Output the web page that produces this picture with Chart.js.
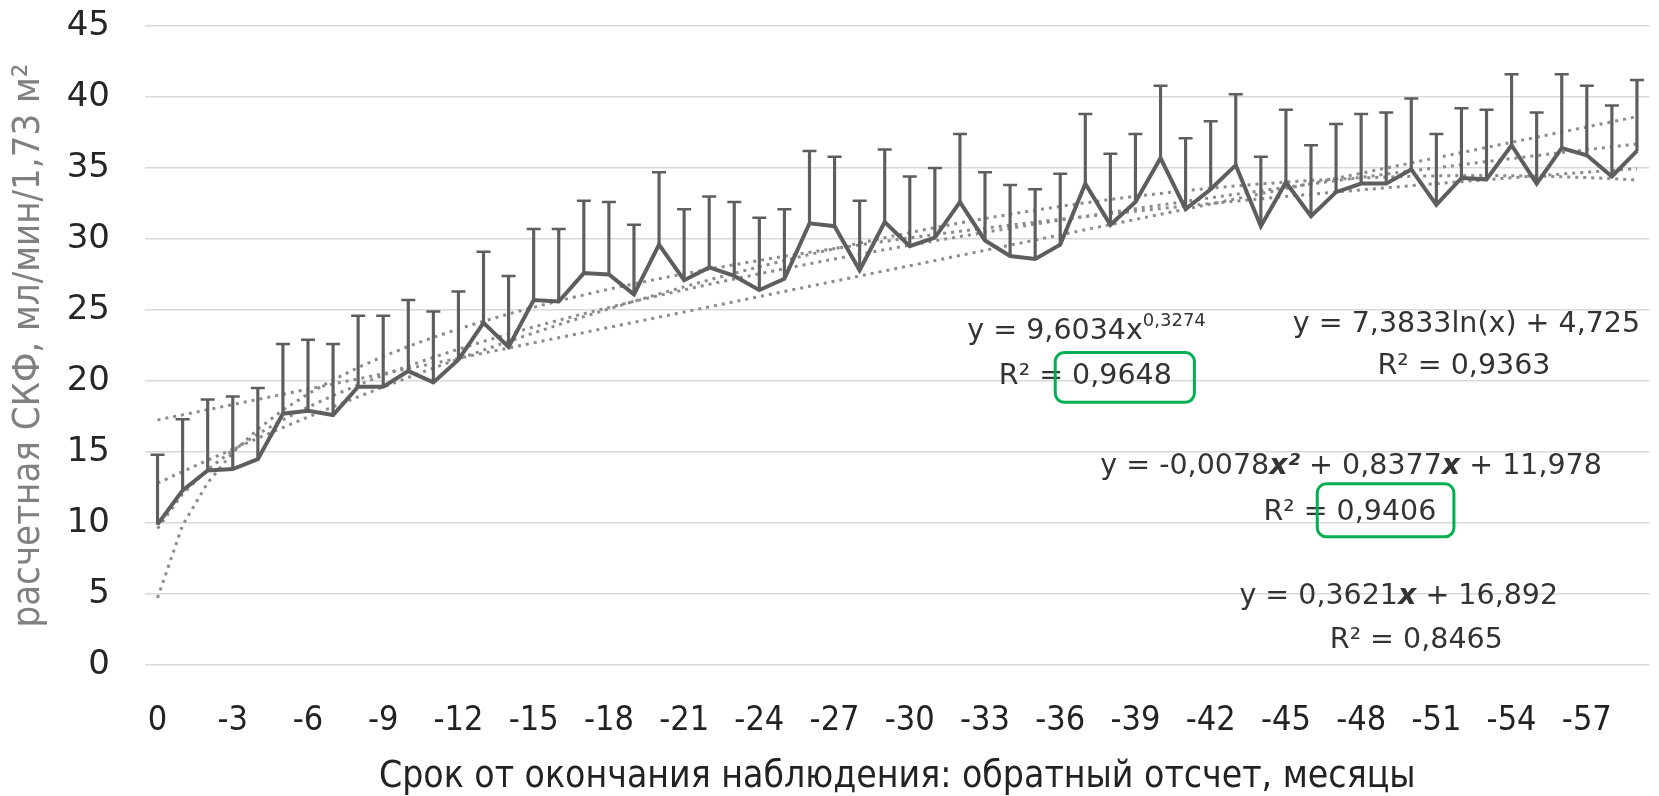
<!DOCTYPE html>
<html>
<head>
<meta charset="utf-8">
<script src="https://cdn.jsdelivr.net/npm/chart.js@4.4.1/dist/chart.umd.min.js"></script>
<style>
  html, body { margin: 0; padding: 0; background: #fff; }
  #chart { display: block; }
</style>
</head>
<body>
<canvas id="chart" width="1659" height="796"></canvas>
<script>
// months before end of observation
const months = [0, -1, -2, -3, -4, -5, -6, -7, -8, -9, -10, -11, -12, -13, -14, -15, -16, -17, -18, -19,
    -20, -21, -22, -23, -24, -25, -26, -27, -28, -29, -30, -31, -32, -33, -34, -35, -36, -37, -38, -39,
    -40, -41, -42, -43, -44, -45, -46, -47, -48, -49, -50, -51, -52, -53, -54, -55, -56, -57, -58, -59];

// mean eGFR
const gfrMean = [9.9, 12.3, 13.7, 13.8, 14.5, 17.7, 17.9, 17.6, 19.6, 19.6,
    20.7, 19.9, 21.5, 24.1, 22.4, 25.7, 25.6, 27.6, 27.5, 26.1,
    29.6, 27.1, 28.0, 27.4, 26.4, 27.2, 31.1, 30.9, 27.8, 31.2,
    29.5, 30.1, 32.6, 29.9, 28.8, 28.6, 29.6, 33.9, 31.0, 32.6,
    35.7, 32.1, 33.5, 35.2, 30.9, 34.0, 31.6, 33.3, 33.9, 33.9,
    34.9, 32.4, 34.3, 34.2, 36.6, 33.9, 36.4, 35.9, 34.4, 36.2];

// top of the error bar (mean + SD)
const gfrUpper = [14.8, 17.3, 18.7, 18.9, 19.5, 22.6, 22.9, 22.6, 24.6, 24.6,
    25.7, 24.9, 26.3, 29.1, 27.4, 30.7, 30.7, 32.7, 32.6, 31.0,
    34.7, 32.1, 33.0, 32.6, 31.5, 32.1, 36.2, 35.8, 32.7, 36.3,
    34.4, 35.0, 37.4, 34.7, 33.8, 33.5, 34.6, 38.8, 36.0, 37.4,
    40.8, 37.1, 38.3, 40.2, 35.8, 39.1, 36.6, 38.1, 38.8, 38.9,
    39.9, 37.4, 39.2, 39.1, 41.6, 38.9, 41.6, 40.8, 39.4, 41.2];

// trendline coefficients printed on the chart (x = 1..60)
const linearCoef = [0.3621, 16.892];          // y = a*x + b
const logCoef = [7.3833, 4.725];              // y = a*ln(x) + b
const powerCoef = [9.6034, 0.3274];           // y = a*x^b
const polyCoef = [-0.0078, 0.8377, 11.978];   // y = a*x^2 + b*x + c

const yTicks = [0, 5, 10, 15, 20, 25, 30, 35, 40, 45];

const xs = months.map((m, i) => i + 1);
const trendLinear = xs.map(x => linearCoef[0] * x + linearCoef[1]);
const trendLog = xs.map(x => logCoef[0] * Math.log(x) + logCoef[1]);
const trendPower = xs.map(x => powerCoef[0] * Math.pow(x, powerCoef[1]));
const trendPoly = xs.map(x => polyCoef[0] * x * x + polyCoef[1] * x + polyCoef[2]);

const LINE_GREY = '#5e5e5e';
const TREND_GREY = '#8c8c8c';
const TEXT_FONT = '"DejaVu Sans", Verdana, sans-serif';
const NARROW_FONT = '"Liberation Sans Narrow", "DejaVu Sans Condensed", sans-serif';

// equation labels, placed in data coords (x = category index, y = value)
const labels = [
    { x: 37.05, y: 23.5, runs: [{ t: 'y = 9,6034x' }, { t: '0,3274', sup: true }] },
    { x: 37.0, y: 20.3, runs: [{ t: 'R² = 0,9648' }] },
    { x: 52.2, y: 24.0, runs: [{ t: 'y = 7,3833ln(x) + 4,725' }] },
    { x: 52.1, y: 21.0, runs: [{ t: 'R² = 0,9363' }] },
    { x: 47.6, y: 14.0, runs: [{ t: 'y = -0,0078' }, { t: 'x²', bi: true }, { t: ' + 0,8377' }, { t: 'x', bi: true }, { t: ' + 11,978' }] },
    { x: 47.55, y: 10.75, runs: [{ t: 'R² = 0,9406' }] },
    { x: 49.5, y: 4.85, runs: [{ t: 'y = 0,3621' }, { t: 'x', bi: true }, { t: ' + 16,892' }] },
    { x: 50.2, y: 1.7, runs: [{ t: 'R² = 0,8465' }] }
];

const boxes = [
    { x0: 35.8, x1: 41.35, y0: 22.0, y1: 18.5 },
    { x0: 46.25, x1: 51.7, y0: 12.76, y1: 9.03 }
];

function runFont(r, size) {
    if (r.sup) return `${Math.round(size * 0.62)}px ${TEXT_FONT}`;
    if (r.bi) return `italic bold ${size}px ${TEXT_FONT}`;
    return `${size}px ${TEXT_FONT}`;
}

const equationPlugin = {
    id: 'equations',
    afterDatasetsDraw(chart) {
        const ctx = chart.ctx;
        const xScale = chart.scales.x;
        const yScale = chart.scales.y;
        const size = 28.5;

        ctx.save();
        ctx.fillStyle = '#333333';
        ctx.textBaseline = 'middle';
        ctx.textAlign = 'left';
        labels.forEach(lbl => {
            let total = 0;
            lbl.runs.forEach(r => {
                ctx.font = runFont(r, size);
                r.w = ctx.measureText(r.t).width;
                total += r.w;
            });
            let px = xScale.getPixelForValue(lbl.x) - total / 2;
            const py = yScale.getPixelForValue(lbl.y);
            lbl.runs.forEach(r => {
                ctx.font = runFont(r, size);
                ctx.fillText(r.t, px, r.sup ? py - size * 0.35 : py);
                px += r.w;
            });
        });

        ctx.strokeStyle = '#00b050';
        ctx.lineWidth = 3;
        boxes.forEach(b => {
            const x0 = xScale.getPixelForValue(b.x0);
            const x1 = xScale.getPixelForValue(b.x1);
            const y0 = yScale.getPixelForValue(b.y0);
            const y1 = yScale.getPixelForValue(b.y1);
            ctx.beginPath();
            ctx.roundRect(x0, y0, x1 - x0, y1 - y0, 9);
            ctx.stroke();
        });
        ctx.restore();
    }
};

function trendDataset(data) {
    return {
        type: 'line',
        data: data,
        borderColor: TREND_GREY,
        borderWidth: 3,
        borderDash: [3, 5],
        pointRadius: 0,
        fill: false,
        order: 5
    };
}

new Chart(document.getElementById('chart'), {
    data: {
        labels: months,
        datasets: [
            trendDataset(trendLinear),
            trendDataset(trendLog),
            trendDataset(trendPower),
            trendDataset(trendPoly),
            {
                // error bar stems
                type: 'bar',
                data: gfrMean.map((v, i) => [v, gfrUpper[i]]),
                backgroundColor: LINE_GREY,
                barThickness: 2.5,
                order: 3
            },
            {
                // error bar caps
                type: 'line',
                data: gfrUpper,
                showLine: false,
                pointStyle: 'line',
                pointRadius: 7,
                pointBorderWidth: 2.5,
                borderColor: LINE_GREY,
                order: 2
            },
            {
                type: 'line',
                data: gfrMean,
                borderColor: LINE_GREY,
                borderWidth: 4,
                pointRadius: 0,
                tension: 0,
                order: 1
            }
        ]
    },
    options: {
        responsive: false,
        animation: false,
        devicePixelRatio: 1,
        layout: { padding: { left: 5, right: 6, top: 26, bottom: 0 } },
        plugins: {
            legend: { display: false },
            tooltip: { enabled: false }
        },
        scales: {
            x: {
                type: 'category',
                offset: true,
                grid: { display: false, drawTicks: false },
                border: { display: false },
                ticks: {
                    autoSkip: false,
                    maxRotation: 0,
                    padding: 36,
                    color: '#222',
                    font: { family: NARROW_FONT, size: 34 },
                    callback: function (val, idx) {
                        return idx % 3 === 0 ? String(months[idx]) : '';
                    }
                },
                title: {
                    display: true,
                    text: 'Срок от окончания наблюдения: обратный отсчет, месяцы',
                    color: '#222',
                    padding: { top: 0, bottom: -4 },
                    font: { family: NARROW_FONT, size: 37 }
                },
                afterFit: function (scale) {
                    scale.height = 131;
                    scale.paddingLeft = 0;
                    scale.paddingRight = 0;
                }
            },
            y: {
                min: 0,
                max: 45,
                afterBuildTicks: function (scale) {
                    scale.ticks = yTicks.map(v => ({ value: v }));
                },
                grid: { color: '#d9d9d9', lineWidth: 1.5, drawTicks: false },
                border: { display: false },
                ticks: {
                    padding: 35,
                    color: '#262626',
                    font: { family: TEXT_FONT, size: 34 }
                },
                title: {
                    display: true,
                    text: 'расчетная СКФ, мл/мин/1,73 м²',
                    color: '#808080',
                    padding: { top: 1, bottom: 0 },
                    font: { family: NARROW_FONT, size: 38 }
                },
                afterFit: function (scale) {
                    scale.width = 140;
                    scale.paddingTop = 0;
                    scale.paddingBottom = 0;
                }
            }
        }
    },
    plugins: [equationPlugin]
});
</script>
</body>
</html>
